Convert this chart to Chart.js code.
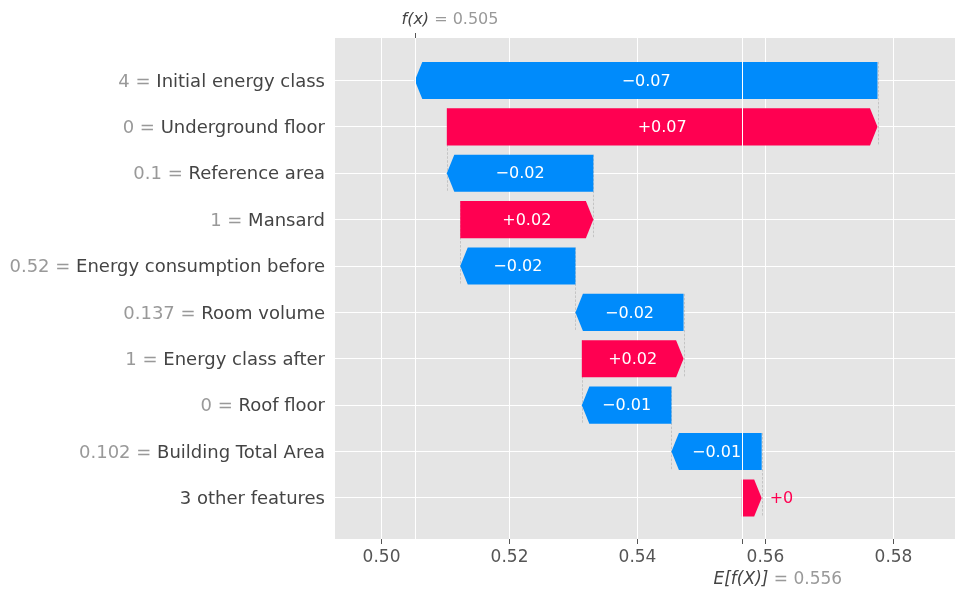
<!DOCTYPE html>
<html>
<head>
<meta charset="utf-8">
<script src="https://cdn.jsdelivr.net/npm/chart.js@4.4.0/dist/chart.umd.min.js"></script>
<style>
	html, body { margin: 0; padding: 0; background: #fff; }
	#wrap { width: 965px; height: 600px; position: relative; }
</style>
</head>
<body>
<div id="wrap"><canvas id="waterfall"></canvas></div>
<script>
( function () {
	'use strict';

	// rows from top to bottom
	var featureNames = [
		'Initial energy class',
		'Underground floor',
		'Reference area',
		'Mansard',
		'Energy consumption before',
		'Room volume',
		'Energy class after',
		'Roof floor',
		'Building Total Area',
		'3 other features',
	];
	var featureValues = [ '4', '0', '0.1', '1', '0.52', '0.137', '1', '0', '0.102', '' ];
	var shapValues = [ -0.0723, 0.0673, -0.0229, 0.0208, -0.018, -0.0169, 0.0159, -0.014, -0.0141, 0.0031 ];
	var baseValue = 0.5563;
	var fxText = '0.505';
	var baseText = '0.556';
	var xTicks = [ 0.50, 0.52, 0.54, 0.56, 0.58 ];

	var POS = '#ff0051';
	var NEG = '#008bfb';
	var FONT = '"DejaVu Sans", sans-serif';

	// waterfall: bottom row starts at the base value and climbs up to f(x)
	var barStarts = [];
	var barEnds = [];
	var pos = baseValue;
	for ( var i = shapValues.length - 1; i >= 0; i-- ) {
		barStarts[ i ] = pos;
		barEnds[ i ] = pos + shapValues[ i ];
		pos = barEnds[ i ];
	}
	var fxValue = pos;

	function fmt( v ) {
		var s = Math.abs( v ).toFixed( 2 );
		if ( s === '0.00' ) {
			return '+0';
		}
		return ( v < 0 ? '\u2212' : '+' ) + s;
	}

	var waterfallPlugin = {
		id: 'waterfall',
		beforeDraw: function ( chart ) {
			var a = chart.chartArea;
			var ctx = chart.ctx;
			ctx.save();
			ctx.fillStyle = '#e5e5e5';
			ctx.fillRect( a.left, a.top, a.right - a.left, a.bottom - a.top );
			ctx.restore();
		},
		beforeDatasetDraw: function ( chart, args ) {
			var ctx = chart.ctx;
			var xs = chart.scales.x;
			var bars = args.meta.data;

			// dashed connectors between consecutive rows
			ctx.save();
			ctx.strokeStyle = '#bbbbbb';
			ctx.lineWidth = 0.8;
			ctx.setLineDash( [ 2.5, 1.5 ] );
			for ( var i = 0; i < bars.length - 1; i++ ) {
				var px = Math.round( xs.getPixelForValue( barStarts[ i ] ) ) + 0.5;
				ctx.beginPath();
				ctx.moveTo( px, bars[ i ].y - bars[ i ].height / 2 );
				ctx.lineTo( px, bars[ i + 1 ].y + bars[ i + 1 ].height / 2 );
				ctx.stroke();
			}
			ctx.restore();

			// arrow shaped bars
			ctx.save();
			bars.forEach( function ( bar, i ) {
				var left = Math.min( bar.x, bar.base );
				var right = Math.max( bar.x, bar.base );
				var top = bar.y - bar.height / 2;
				var bottom = bar.y + bar.height / 2;
				var head = Math.min( 7.5, right - left );
				ctx.fillStyle = bar.options.backgroundColor;
				ctx.beginPath();
				if ( shapValues[ i ] >= 0 ) {
					ctx.moveTo( left, top );
					ctx.lineTo( right - head, top );
					ctx.lineTo( right, bar.y );
					ctx.lineTo( right - head, bottom );
					ctx.lineTo( left, bottom );
				} else {
					ctx.moveTo( right, top );
					ctx.lineTo( left + head, top );
					ctx.lineTo( left, bar.y );
					ctx.lineTo( left + head, bottom );
					ctx.lineTo( right, bottom );
				}
				ctx.closePath();
				ctx.fill();
			} );
			ctx.restore();
			return false;
		},
		afterDatasetsDraw: function ( chart ) {
			var ctx = chart.ctx;
			var a = chart.chartArea;
			var xs = chart.scales.x;
			var bars = chart.getDatasetMeta( 0 ).data;
			var fxPx = Math.round( xs.getPixelForValue( fxValue ) ) + 0.5;
			var basePx = Math.round( xs.getPixelForValue( baseValue ) ) + 0.5;

			ctx.save();
			// grid lines of the f(x) and E[f(X)] twin axes sit above the bars
			ctx.strokeStyle = '#ffffff';
			ctx.lineWidth = 1;
			[ fxPx, basePx ].forEach( function ( p ) {
				ctx.beginPath();
				ctx.moveTo( p, a.top );
				ctx.lineTo( p, a.bottom );
				ctx.stroke();
			} );
			ctx.strokeStyle = '#555555';
			ctx.beginPath();
			ctx.moveTo( fxPx, a.top - 5 );
			ctx.lineTo( fxPx, a.top );
			ctx.moveTo( basePx, a.bottom );
			ctx.lineTo( basePx, a.bottom + 5 );
			ctx.stroke();

			// value labels on the bars
			ctx.font = '16px ' + FONT;
			ctx.textBaseline = 'middle';
			bars.forEach( function ( bar, i ) {
				var left = Math.min( bar.x, bar.base );
				var right = Math.max( bar.x, bar.base );
				var txt = fmt( shapValues[ i ] );
				var w = ctx.measureText( txt ).width;
				if ( w + 12 < right - left ) {
					ctx.fillStyle = '#ffffff';
					ctx.textAlign = 'center';
					ctx.fillText( txt, ( left + right ) / 2, bar.y + 1 );
				} else if ( shapValues[ i ] >= 0 ) {
					ctx.fillStyle = POS;
					ctx.textAlign = 'left';
					ctx.fillText( txt, right + 8, bar.y + 1 );
				} else {
					ctx.fillStyle = NEG;
					ctx.textAlign = 'right';
					ctx.fillText( txt, left - 8, bar.y + 1 );
				}
			} );

			// feature labels: grey value, dark name
			ctx.font = '18px ' + FONT;
			ctx.textAlign = 'right';
			bars.forEach( function ( bar, i ) {
				var xr = a.left - 10;
				ctx.fillStyle = '#444444';
				ctx.fillText( featureNames[ i ], xr, bar.y + 1.5 );
				if ( featureValues[ i ] !== '' ) {
					var nw = ctx.measureText( featureNames[ i ] ).width;
					ctx.fillStyle = '#999999';
					ctx.fillText( featureValues[ i ] + ' = ', xr - nw, bar.y + 1.5 );
				}
			} );

			// twin axis labels
			function mathLabel( x, y, size, head, rest ) {
				ctx.textAlign = 'left';
				ctx.font = 'italic ' + size + 'px ' + FONT;
				ctx.fillStyle = '#444444';
				ctx.fillText( head, x, y );
				var hw = ctx.measureText( head ).width;
				ctx.font = size + 'px ' + FONT;
				ctx.fillStyle = '#999999';
				ctx.fillText( ' = ' + rest, x + hw, y );
			}
			mathLabel( fxPx - 14, 20, 16, 'f(x)', fxText );
			mathLabel( basePx - 29, 580, 17, 'E[f(X)]', baseText );
			ctx.restore();
		},
	};

	var rows = featureNames.map( function ( n, i ) {
		return { y: i, x: [ barStarts[ i ], barEnds[ i ] ] };
	} );

	new Chart( document.getElementById( 'waterfall' ), {
		type: 'bar',
		data: {
			datasets: [
				{
					data: rows,
					backgroundColor: shapValues.map( function ( v ) {
						return v >= 0 ? POS : NEG;
					} ),
					barPercentage: 0.8,
					categoryPercentage: 1,
				},
			],
		},
		plugins: [ waterfallPlugin ],
		options: {
			indexAxis: 'y',
			responsive: true,
			maintainAspectRatio: false,
			animation: false,
			layout: {
				padding: { left: 335, right: 10, top: 38, bottom: 0 },
			},
			plugins: {
				legend: { display: false },
				tooltip: { enabled: false },
			},
			scales: {
				x: {
					type: 'linear',
					position: 'bottom',
					min: 0.49273,
					max: 0.58961,
					afterBuildTicks: function ( axis ) {
						axis.ticks = xTicks.map( function ( v ) {
							return { value: v };
						} );
					},
					afterFit: function ( axis ) {
						axis.height = 61;
					},
					border: { display: false },
					grid: {
						color: '#ffffff',
						lineWidth: 1,
						drawTicks: true,
						tickLength: 5,
						tickColor: '#555555',
					},
					ticks: {
						color: '#555555',
						padding: 3,
						font: { family: FONT, size: 17 },
						callback: function ( value ) {
							return Number( value ).toFixed( 2 );
						},
					},
				},
				y: {
					type: 'linear',
					reverse: true,
					offset: false,
					min: -0.915,
					max: 9.885,
					afterBuildTicks: function ( axis ) {
						axis.ticks = featureNames.map( function ( n, i ) {
							return { value: i };
						} );
					},
					afterFit: function ( axis ) {
						axis.width = 0;
					},
					border: { display: false },
					grid: {
						color: '#ffffff',
						lineWidth: 1,
						offset: false,
						drawTicks: false,
					},
					ticks: { display: false },
				},
			},
		},
	} );
} )();
</script>
</body>
</html>
